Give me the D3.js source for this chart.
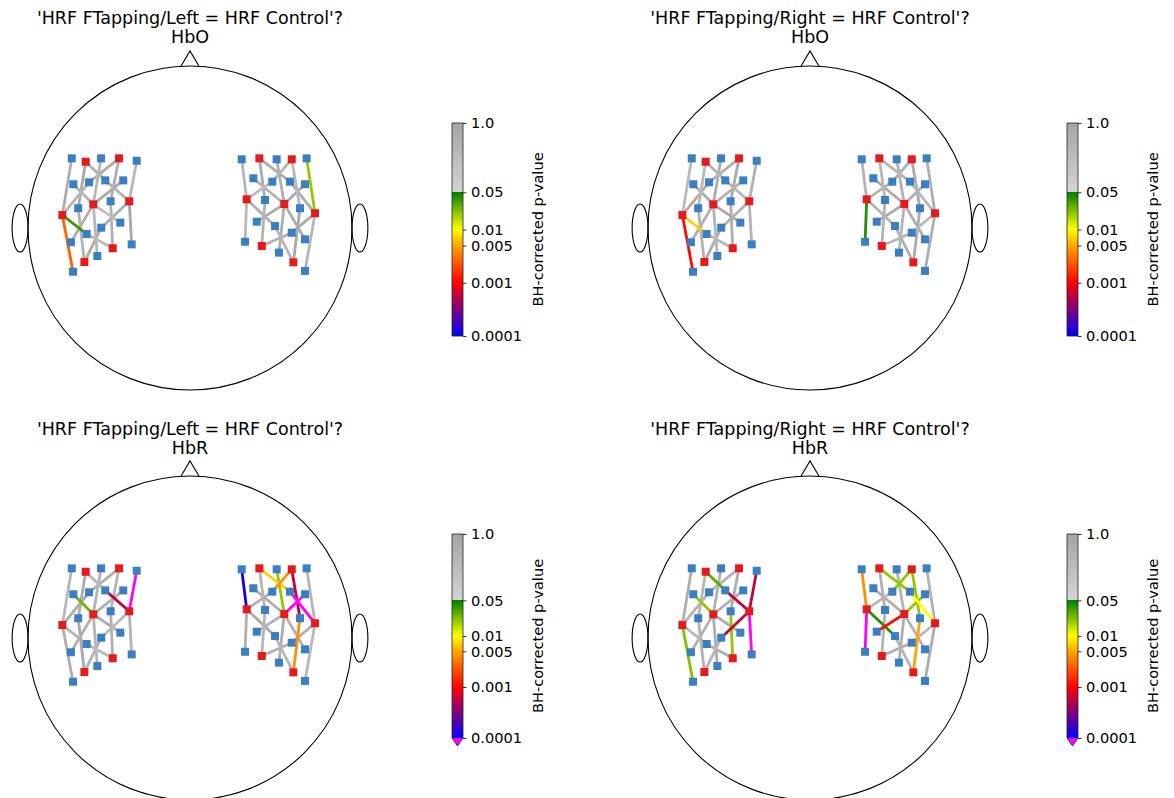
<!DOCTYPE html>
<html><head><meta charset="utf-8">
<script src="https://cdn.jsdelivr.net/npm/d3@7"></script>
<style>body{margin:0;background:#fff}</style>
</head><body>
<script>
// ---------------- DATA ----------------
// Optode positions in normalized head coordinates (head radius = 1, x right, y anterior)
const sourceX = [-0.644,-0.438,-0.597,-0.375,-0.788,-0.477,-0.652,
                  0.628, 0.428, 0.582, 0.350, 0.772, 0.443, 0.638];
const sourceY = [ 0.409, 0.430, 0.146, 0.165, 0.080,-0.125,-0.210,
                  0.424, 0.430, 0.148, 0.177, 0.091,-0.111,-0.212];
const detectorX = [-0.730,-0.549,-0.329,-0.720,-0.623,-0.523,-0.412,-0.690,
                   -0.490,-0.638,-0.548,-0.430,-0.735,-0.360,-0.572,-0.722,
                    0.720, 0.535, 0.319, 0.710, 0.617, 0.508, 0.391, 0.679,
                    0.463, 0.628, 0.525, 0.412, 0.710, 0.340, 0.549, 0.710];
const detectorY = [ 0.430, 0.430, 0.415, 0.270, 0.282, 0.294, 0.294, 0.122,
                    0.165,-0.037, 0.002, 0.033,-0.088,-0.101,-0.173,-0.270,
                    0.430, 0.424, 0.424, 0.270, 0.286, 0.286, 0.307, 0.122,
                    0.173,-0.029, 0.012, 0.039,-0.070,-0.085,-0.152,-0.265];
// Channels (source index, detector index), left hemisphere; right hemisphere mirrors it
const chanSourceLeft   = [0,1,2,0,1,3,2,3,2,4,4,4,4,3,2,3,5,6,5,6,2,2];
const chanDetectorLeft = [5,4,1,7,8,2,3,5,6,4,0,9,15,10,11,13,8,7,9,10,14,12];
const chanSource   = chanSourceLeft.concat(chanSourceLeft.map(s => s + 7));
const chanDetector = chanDetectorLeft.concat(chanDetectorLeft.map(d => d + 16));

const panelTitles = ["'HRF FTapping/Left = HRF Control'?", "'HRF FTapping/Right = HRF Control'?",
                     "'HRF FTapping/Left = HRF Control'?", "'HRF FTapping/Right = HRF Control'?"];
const panelChroma = ["HbO","HbO","HbR","HbR"];

// BH-corrected p-values per channel (44 channels: 22 left, 22 right)
const pLeftHbO = [0.42,0.61,0.30,0.75,0.55,0.28,0.36,0.47,0.66,0.33,0.52,0.035,0.0026,0.58,0.22,0.81,0.44,0.39,0.27,0.69,0.31,0.50,
                  0.38,0.57,0.46,0.29,0.63,0.35,0.72,0.24,0.41,0.53,0.02,0.66,0.32,0.47,0.59,0.27,0.37,0.74,0.43,0.30,0.55,0.62];
const pRightHbO = [0.35,0.48,0.62,0.27,0.71,0.44,0.52,0.30,0.39,0.58,0.25,0.007,0.0011,0.46,0.67,0.33,0.55,0.41,0.29,0.62,0.37,0.49,
                   0.51,0.33,0.45,0.70,0.28,0.39,0.57,0.43,0.64,0.31,0.48,0.26,0.53,0.36,0.68,0.04,0.42,0.60,0.30,0.47,0.34,0.56];
const pLeftHbR = [0.29,0.46,0.38,0.57,0.33,0.00005,0.025,0.0006,0.44,0.62,0.31,0.40,0.52,0.27,0.59,0.36,0.48,0.71,0.25,0.43,0.34,0.55,
                  0.004,0.007,0.02,0.0006,0.37,0.00012,0.00005,0.41,0.53,0.00005,0.32,0.46,0.28,0.61,0.39,0.50,0.35,0.004,0.44,0.30,0.57,0.47];
const pRightHbR = [0.028,0.37,0.45,0.31,0.58,0.0006,0.02,0.0006,0.42,0.34,0.51,0.29,0.022,0.0006,0.63,0.00005,0.02,0.39,0.47,0.33,0.56,0.41,
                   0.02,0.02,0.36,0.02,0.48,0.004,0.02,0.30,0.55,0.01,0.43,0.27,0.61,0.04,0.0011,0.00005,0.38,0.005,0.46,0.32,0.52,0.40];
const panelP = [pLeftHbO, pRightHbO, pLeftHbR, pRightHbR];

const cbTickValues = [1.0, 0.05, 0.01, 0.005, 0.001, 0.0001];
const cbTickLabels = ["1.0", "0.05", "0.01", "0.005", "0.001", "0.0001"];
const cbLabel = "BH-corrected p-value";

// ---------------- STYLE / LAYOUT ----------------
const W = 1174, H = 798;
const headR = 162;
const panels = [
  {cx:190, cy:228, cbx:452, cbTop:123, cbBot:336, ext:false, titleY:24},
  {cx:810, cy:228, cbx:1067, cbTop:123, cbBot:336, ext:false, titleY:24},
  {cx:190, cy:638, cbx:452, cbTop:534, cbBot:738, ext:true, titleY:435},
  {cx:810, cy:638, cbx:1067, cbTop:534, cbBot:738, ext:true, titleY:435}
];
const sigColors = ["#0000ff","#800080","#ff0000","#ffa500","#ffff00","#008000"];
const sigScale = d3.scaleLog().domain([1e-4, 3.16e-4, 1e-3, 5e-3, 1e-2, 5e-2]).range(sigColors)
  .interpolate(d3.interpolateRgb).clamp(true);
const grayScale = d3.scaleLog().domain([0.05, 1]).range(["#d4d4d4", "#a4a4a4"]).clamp(true);
function pColor(p) {
  if (p < 1e-4) return "#ff00ff";
  if (p <= 0.05) return sigScale(p);
  return grayScale(p);
}

const svg = d3.select("body").append("svg").attr("width", W).attr("height", H)
  .style("font-family", "'DejaVu Sans', sans-serif");

panels.forEach((P, i) => {
  const g = svg.append("g");
  const x = d3.scaleLinear().domain([-1, 1]).range([P.cx - headR, P.cx + headR]);
  const y = d3.scaleLinear().domain([-1, 1]).range([P.cy + headR, P.cy - headR]);
  const r = x(1) - x(0);

  // head outline
  g.append("circle").attr("cx", x(0)).attr("cy", y(0)).attr("r", r)
    .attr("fill", "none").attr("stroke", "#000").attr("stroke-width", 1.1);
  const nose = [[-0.056, 0.9985], [0, 1.093], [0.056, 0.9985]];
  g.append("path").attr("d", d3.line().x(d => x(d[0])).y(d => y(d[1]))(nose))
    .attr("fill", "none").attr("stroke", "#000").attr("stroke-width", 1.1);
  [-1.049, 1.049].forEach(ex => {
    g.append("ellipse").attr("cx", x(ex)).attr("cy", y(0))
      .attr("rx", x(0.049) - x(0)).attr("ry", x(0.148) - x(0))
      .attr("fill", "none").attr("stroke", "#000").attr("stroke-width", 1.1);
  });

  // channels
  const pv = panelP[i];
  const chans = chanSource.map((s, k) => ({s, d: chanDetector[k], p: pv[k]}))
    .sort((a, b) => b.p - a.p);
  g.selectAll("line.ch").data(chans).join("line").attr("class", "ch")
    .attr("x1", c => x(sourceX[c.s])).attr("y1", c => y(sourceY[c.s]))
    .attr("x2", c => x(detectorX[c.d])).attr("y2", c => y(detectorY[c.d]))
    .attr("stroke", c => pColor(c.p)).attr("stroke-width", 2.8);

  // optodes
  const sq = 8;
  g.selectAll("rect.det").data(detectorX).join("rect").attr("class", "det")
    .attr("x", (d, k) => x(d) - sq / 2).attr("y", (d, k) => y(detectorY[k]) - sq / 2)
    .attr("width", sq).attr("height", sq).attr("fill", "#3a7fc2");
  g.selectAll("rect.src").data(sourceX).join("rect").attr("class", "src")
    .attr("x", (d, k) => x(d) - sq / 2).attr("y", (d, k) => y(sourceY[k]) - sq / 2)
    .attr("width", sq).attr("height", sq).attr("fill", "#e41a1c");

  // titles
  g.append("text").attr("x", P.cx).attr("y", P.titleY).attr("text-anchor", "middle")
    .attr("font-size", "17.5px").text(panelTitles[i]);
  g.append("text").attr("x", P.cx).attr("y", P.titleY + 18.5).attr("text-anchor", "middle")
    .attr("font-size", "17.5px").text(panelChroma[i]);

  // colorbar
  const cbW = 11;
  const cs = d3.scaleLog().domain([1e-4, 1]).range([P.cbBot, P.cbTop]);
  const cb = g.append("g");
  for (let yy = P.cbTop; yy < P.cbBot; yy += 1) {
    cb.append("rect").attr("x", P.cbx).attr("y", yy).attr("width", cbW).attr("height", 1.05)
      .attr("fill", pColor(cs.invert(yy + 0.5)));
  }
  let outline = `M${P.cbx},${P.cbTop}H${P.cbx + cbW}V${P.cbBot}`;
  if (P.ext) {
    const tip = P.cbBot + 8;
    cb.append("path").attr("d", `M${P.cbx},${P.cbBot}L${P.cbx + cbW},${P.cbBot}L${P.cbx + cbW / 2},${tip}Z`)
      .attr("fill", "#ff00ff");
    outline += `L${P.cbx + cbW / 2},${tip}L${P.cbx},${P.cbBot}Z`;
  } else {
    outline += `H${P.cbx}Z`;
  }
  cb.append("path").attr("d", outline).attr("fill", "none").attr("stroke", "#222").attr("stroke-width", 0.8);

  const axis = d3.axisRight(cs).tickValues(cbTickValues)
    .tickFormat((d, k) => cbTickLabels[k]).tickSize(3.5).tickPadding(4.5);
  const ag = g.append("g").attr("transform", `translate(${P.cbx + cbW},0)`).call(axis);
  ag.select(".domain").remove();
  ag.selectAll("text").attr("font-size", "14.6px").attr("font-family", "'DejaVu Sans', sans-serif").attr("fill", "#000");
  ag.selectAll("line").attr("stroke", "#000").attr("stroke-width", 0.8);

  g.append("text").attr("transform", `translate(${P.cbx + 91},${(P.cbTop + P.cbBot) / 2}) rotate(-90)`)
    .attr("text-anchor", "middle").attr("font-size", "14.6px").text(cbLabel);
});
</script>
</body></html>
